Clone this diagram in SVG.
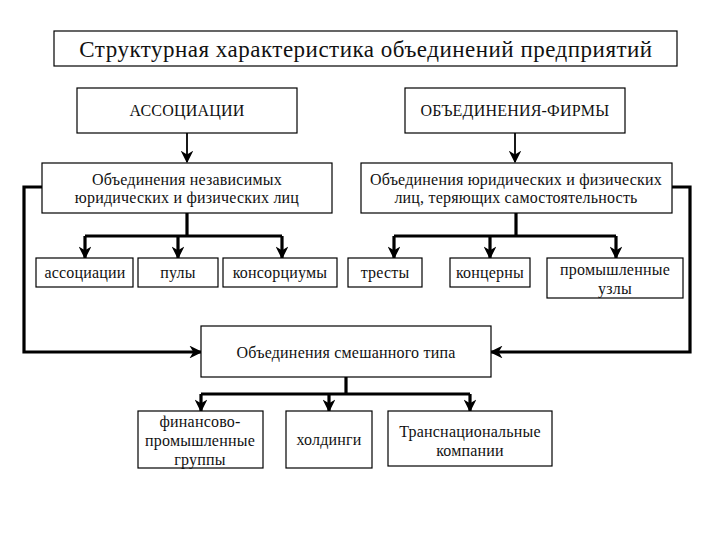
<svg xmlns="http://www.w3.org/2000/svg" width="720" height="540" viewBox="0 0 720 540">
<style>
.box{fill:#fff;stroke:#000;stroke-width:1.2}
text{font-family:"Liberation Serif","Times New Roman",serif;font-size:16px;letter-spacing:0.2px;fill:#111;text-anchor:middle}
.t{font-size:23px;letter-spacing:0.5px}
.thick{fill:none;stroke:#000;stroke-width:3.2}
.thin{fill:none;stroke:#000;stroke-width:1.8}
</style>
<defs>
<marker id="ah" viewBox="0 0 10 10" refX="9" refY="5" markerWidth="4" markerHeight="4" orient="auto" markerUnits="strokeWidth">
<path d="M0,0 L10,5 L0,10 L3,5 z" fill="#000"/>
</marker>
<marker id="ah2" viewBox="0 0 10 10" refX="9" refY="5" markerWidth="7" markerHeight="7" orient="auto" markerUnits="strokeWidth">
<path d="M0,0 L10,5 L0,10 L3,5 z" fill="#000"/>
</marker>
</defs>
<rect width="720" height="540" fill="#fff"/>
<g id="connectors">
<path class="thin" d="M187,133 V162" marker-end="url(#ah2)"/>
<path class="thin" d="M515,133 V162" marker-end="url(#ah2)"/>
<path class="thick" d="M187,213 V236"/>
<path class="thick" d="M85,236 H282"/>
<path class="thick" d="M85,236 V258" marker-end="url(#ah)"/>
<path class="thick" d="M178,236 V258" marker-end="url(#ah)"/>
<path class="thick" d="M282,236 V258" marker-end="url(#ah)"/>
<path class="thick" d="M516,213 V236"/>
<path class="thick" d="M394,236 H616"/>
<path class="thick" d="M394,236 V258" marker-end="url(#ah)"/>
<path class="thick" d="M490,236 V258" marker-end="url(#ah)"/>
<path class="thick" d="M616,236 V258" marker-end="url(#ah)"/>
<path class="thick" d="M42,187 H24 V352 H201" marker-end="url(#ah)"/>
<path class="thick" d="M672,187 H690 V352 H491" marker-end="url(#ah)"/>
<path class="thick" d="M346,377 V394"/>
<path class="thick" d="M201,394 H470"/>
<path class="thick" d="M201,394 V411" marker-end="url(#ah)"/>
<path class="thick" d="M329,394 V411" marker-end="url(#ah)"/>
<path class="thick" d="M470,394 V411" marker-end="url(#ah)"/>
</g>
<g id="title"><rect class="box" x="54" y="31" width="623" height="35"/><text class="t" x="366" y="57">Структурная характеристика объединений предприятий</text></g>
<g id="assoc"><rect class="box" x="77" y="88" width="220" height="45"/><text x="187" y="116">АССОЦИАЦИИ</text></g>
<g id="firms"><rect class="box" x="405" y="88" width="220" height="45"/><text x="515" y="116">ОБЪЕДИНЕНИЯ-ФИРМЫ</text></g>
<g id="indep"><rect class="box" x="42" y="163" width="290" height="50"/><text x="187" y="185">Объединения независимых</text><text x="187" y="203">юридических и физических лиц</text></g>
<g id="losing"><rect class="box" x="361" y="163" width="311" height="50"/><text x="516" y="185">Объединения юридических и физических</text><text x="516" y="203">лиц, теряющих самостоятельность</text></g>
<g id="associations"><rect class="box" x="36" y="258" width="97" height="29"/><text x="85" y="278">ассоциации</text></g>
<g id="pools"><rect class="box" x="138" y="258" width="80" height="29"/><text x="178" y="278">пулы</text></g>
<g id="consortia"><rect class="box" x="223" y="258" width="114" height="29"/><text x="280" y="278">консорциумы</text></g>
<g id="trusts"><rect class="box" x="348" y="258" width="74" height="29"/><text x="385" y="278">тресты</text></g>
<g id="concerns"><rect class="box" x="450" y="258" width="80" height="29"/><text x="490" y="278">концерны</text></g>
<g id="nodes"><rect class="box" x="547" y="258" width="136" height="40"/><text x="615" y="275">промышленные</text><text x="615" y="294">узлы</text></g>
<g id="mixed"><rect class="box" x="201" y="326" width="290" height="51"/><text x="346" y="358">Объединения смешанного типа</text></g>
<g id="fpg"><rect class="box" x="138" y="411" width="125" height="57"/><text x="200" y="427">финансово-</text><text x="200" y="446">промышленные</text><text x="200" y="465">группы</text></g>
<g id="holdings"><rect class="box" x="286" y="411" width="86" height="57"/><text x="329" y="445">холдинги</text></g>
<g id="tnc"><rect class="box" x="388" y="411" width="164" height="55"/><text x="470" y="437">Транснациональные</text><text x="470" y="456">компании</text></g>
</svg>
